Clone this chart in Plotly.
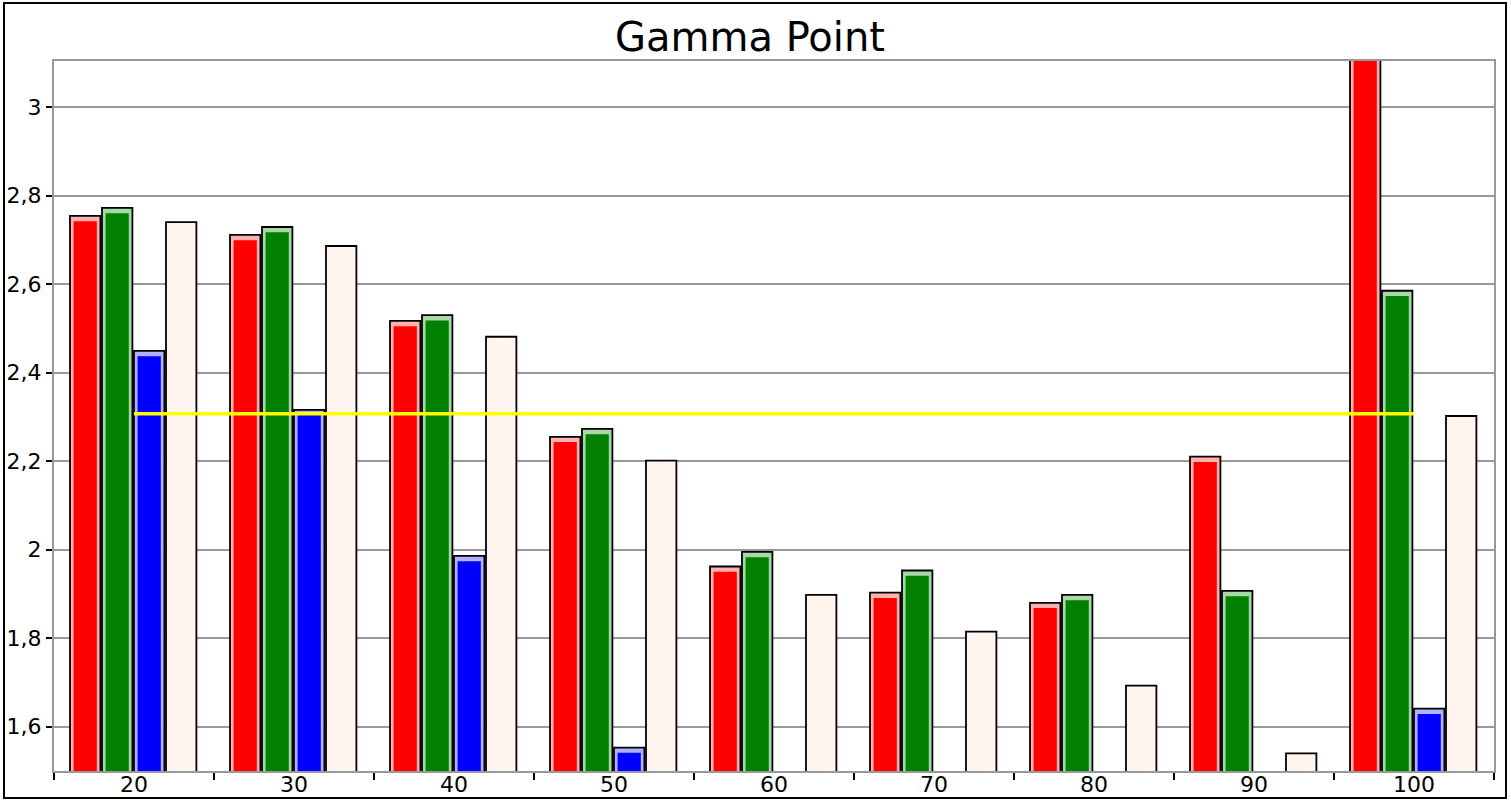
import plotly.graph_objects as go

categories = ["20", "30", "40", "50", "60", "70", "80", "90", "100"]
red_vals = [2.754, 2.711, 2.517, 2.255, 1.962, 1.903, 1.880, 2.210, 3.25]
green_vals = [2.772, 2.729, 2.530, 2.273, 1.995, 1.953, 1.898, 1.907, 2.585]
blue_vals = [2.449, 2.316, 1.986, 1.553, None, None, None, None, 1.641]
white_vals = [2.740, 2.686, 2.481, 2.201, 1.898, 1.815, 1.693, 1.540, 2.302]
ref_line_x = ["20", "100"]
ref_line_y = [2.307, 2.307]

series = [
    (red_vals, "#FF0000", "#FFB0B0", -0.4),
    (green_vals, "#008000", "#A8D8A8", -0.2),
    (blue_vals, "#0000FF", "#B0B0FF", 0.0),
    (white_vals, "#FFF4EE", "#FFF4EE", 0.2),
]

fig = go.Figure()
for vals, col, light, off in series:
    fig.add_trace(go.Bar(
        x=categories, y=vals, width=0.19, offset=off,
        marker=dict(color=light, line=dict(color="black", width=1.8)),
        showlegend=False, hoverinfo="skip",
    ))
    fig.add_trace(go.Bar(
        x=categories, y=[None if v is None else v - 0.012 for v in vals],
        width=0.19 - 0.045, offset=off + 0.0225,
        marker=dict(color=col, line=dict(width=0)),
        showlegend=False,
    ))

fig.add_trace(go.Scatter(
    x=ref_line_x, y=ref_line_y, mode="lines",
    line=dict(color="#FFFF00", width=3.5), showlegend=False,
))

fig.update_layout(
    width=1511, height=802,
    barmode="overlay",
    paper_bgcolor="white", plot_bgcolor="white",
    separators=", ",
    font=dict(family="DejaVu Sans", size=22, color="black"),
    title=dict(text="Gamma Point", xref="container", x=750 / 1511, xanchor="center",
               y=1 - 37 / 802, yanchor="middle", automargin=False,
               font=dict(size=40, family="DejaVu Sans", color="black")),
    margin=dict(l=54, r=17, t=61, b=31, autoexpand=False),
    xaxis=dict(
        type="category", tickson="boundaries", ticks="outside", ticklen=7,
        tickcolor="black", tickwidth=2, showgrid=False, automargin=False,
        showline=True, linecolor="#999999", linewidth=2, mirror=True,
        range=[-0.5, 8.5], fixedrange=True, ticklabelstandoff=-7,
    ),
    yaxis=dict(
        range=[1.5, 3.104], tick0=0, dtick=0.2, ticks="outside", ticklen=6,
        tickcolor="black", tickwidth=2, automargin=False,
        showgrid=True, gridcolor="#999999", gridwidth=2,
        showline=True, linecolor="#999999", linewidth=2, mirror=True,
        zeroline=False, fixedrange=True,
    ),
    shapes=[dict(
        type="rect", xref="paper", yref="paper",
        x0=(4 - 54) / 1440, x1=(1506 - 54) / 1440,
        y0=-(798 - 771) / 710, y1=1 + (61 - 3) / 710,
        line=dict(color="black", width=2), fillcolor="rgba(0,0,0,0)",
        layer="above",
    )],
)

fig.write_html(
    "out.html",
    config={"displayModeBar": False},
    post_script="document.body.style.margin='0';document.body.style.overflow='hidden';",
)
